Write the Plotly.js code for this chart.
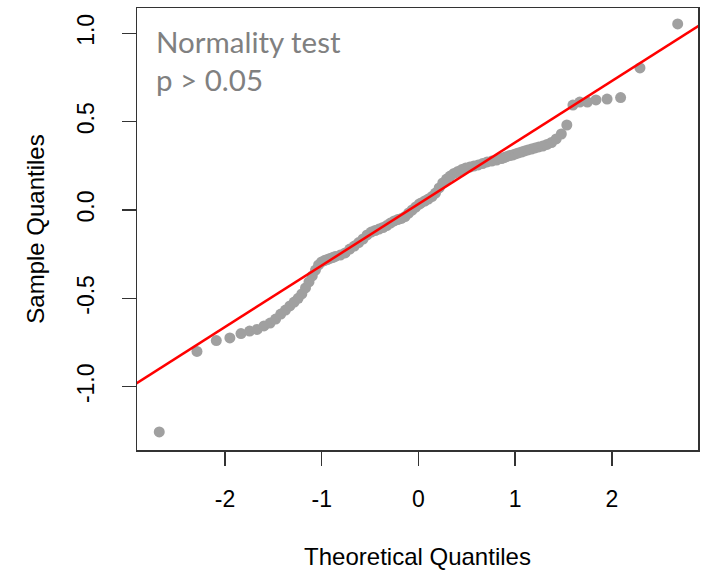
<!DOCTYPE html>
<html>
<head>
<meta charset="utf-8">
<script src="https://cdn.plot.ly/plotly-3.0.1.min.js"></script>
<style>
html,body{margin:0;padding:0;background:#fff;}
#chart{width:704px;height:570px;}
</style>
</head>
<body>
<div id="chart"></div>
<script>
// Theoretical quantiles (x) and sample quantiles (y)
var theoretical = [-2.68,-2.29,-2.09,-1.95,-1.835,-1.746,-1.668,-1.597,-1.534,-1.477,-1.424,-1.375,-1.329,-1.285,-1.244,-1.206,-1.168,-1.132,-1.098,-1.065,-1.033,-1.002,-0.972,-0.943,-0.915,-0.887,
-0.860,-0.808,-0.758,-0.710,-0.663,-0.618,-0.573,-0.531,-0.489,-0.448,-0.408,-0.367,-0.328,-0.290,-0.251,-0.214,-0.176,-0.139,-0.101,-0.065,-0.028,0.009,
0.028,0.065,0.101,0.139,0.176,0.214,0.251,0.290,0.328,0.367,0.408,0.448,0.489,0.531,0.573,0.618,0.663,0.710,0.758,0.808,0.860,
0.887,0.915,0.943,0.972,1.002,1.033,1.065,1.098,1.132,1.168,1.206,1.244,1.285,1.329,1.375,1.424,1.477,1.534,1.597,1.668,1.746,1.835,1.95,2.09,2.29,2.68];

var sample = [-1.256,-0.80,-0.739,-0.724,-0.699,-0.685,-0.676,-0.656,-0.64,-0.617,-0.589,-0.566,-0.543,-0.521,-0.50,-0.475,-0.441,-0.407,-0.373,-0.34,-0.311,-0.294,-0.286,-0.28,-0.274,-0.269,
-0.263,-0.255,-0.243,-0.221,-0.204,-0.184,-0.164,-0.141,-0.125,-0.116,-0.108,-0.099,-0.088,-0.074,-0.062,-0.054,-0.048,-0.037,-0.017,0.0,0.017,0.034,
0.040,0.051,0.062,0.076,0.096,0.125,0.153,0.175,0.192,0.207,0.218,0.229,0.238,0.243,0.249,0.255,0.263,0.272,0.277,0.283,0.291,
0.297,0.303,0.308,0.311,0.317,0.323,0.328,0.334,0.340,0.345,0.351,0.357,0.362,0.371,0.382,0.402,0.430,0.481,0.594,0.611,0.611,0.623,0.628,0.636,0.804,1.053];

// Reference line (qqline)
var lineIntercept = 0.034;
var lineSlope = 0.348;

var xTickVals = [-2, -1, 0, 1, 2];
var xTickText = ['-2', '-1', '0', '1', '2'];
var yTickVals = [-1, -0.5, 0, 0.5, 1];
var yTickText = ['-1.0', '-0.5', '0.0', '0.5', '1.0'];

var xRange = [-2.91, 2.89];
var yRange = [-1.358, 1.143];

var lineX = [xRange[0] - 0.2, xRange[1] + 0.2];
var lineY = lineX.map(function (v) { return lineIntercept + lineSlope * v; });

var traces = [
  {
    type: 'scatter', mode: 'markers',
    x: theoretical, y: sample,
    marker: {color: '#a0a0a0', size: 11, line: {width: 0}},
    hoverinfo: 'skip', showlegend: false
  },
  {
    type: 'scatter', mode: 'lines',
    x: lineX, y: lineY,
    line: {color: '#ff0000', width: 2.5},
    hoverinfo: 'skip', showlegend: false
  }
];

var axisFont = {family: '"Liberation Sans", Arial, sans-serif', size: 23, color: '#000'};

var layout = {
  width: 704, height: 570,
  margin: {l: 137, r: 6, t: 8, b: 120},
  paper_bgcolor: '#fff', plot_bgcolor: '#fff',
  showlegend: false,
  xaxis: {
    range: xRange, showgrid: false, zeroline: false,
    showline: true, mirror: true, linecolor: '#333', linewidth: 1.5,
    ticks: 'outside', ticklen: 14, tickwidth: 1.5, tickcolor: '#333',
    tickvals: xTickVals, ticktext: xTickText,
    tickfont: axisFont, ticklabelstandoff: 14,
    title: {text: 'Theoretical Quantiles', font: {family: axisFont.family, size: 24, color: '#000'}, standoff: 37}
  },
  yaxis: {
    range: yRange, showgrid: false, zeroline: false,
    showline: true, mirror: true, linecolor: '#333', linewidth: 1.5,
    ticks: 'outside', ticklen: 14, tickwidth: 1.5, tickcolor: '#333',
    tickvals: yTickVals, ticktext: yTickText, tickangle: -90,
    tickfont: axisFont, ticklabelstandoff: 18,
    title: {text: 'Sample Quantiles', font: {family: axisFont.family, size: 24, color: '#000'}, standoff: 22}
  },
  annotations: [
    {xref: 'paper', yref: 'paper', x: 0.03, y: (450 - 42) / 442, xanchor: 'left', yanchor: 'middle',
     text: 'Normality test', showarrow: false,
     font: {family: 'Lato, "Open Sans", sans-serif', size: 29.5, color: '#808080'}},
    {xref: 'paper', yref: 'paper', x: 0.03, y: (450 - 80) / 442, xanchor: 'left', yanchor: 'middle',
     text: 'p &gt; 0.05', showarrow: false,
     font: {family: 'Lato, "Open Sans", sans-serif', size: 29.5, color: '#808080'}}
  ]
};

Plotly.newPlot('chart', traces, layout, {displayModeBar: false, staticPlot: true});
</script>
</body>
</html>
